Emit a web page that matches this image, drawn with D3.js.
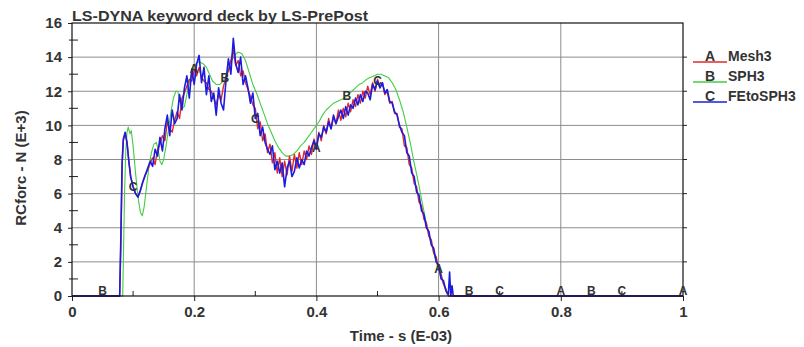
<!DOCTYPE html>
<html>
<head>
<meta charset="utf-8">
<script src="https://cdn.jsdelivr.net/npm/d3@7"></script>
<style>
  body { margin: 0; background: #fff; }
  text { font-family: Arial, "Liberation Sans", sans-serif; font-weight: bold; }
</style>
</head>
<body>
<div id="chart"></div>
<script>
// time grid (s E-03) shared by the two noisy curves
const timeFine = [
  0, 0.078, 0.080, 0.082, 0.084, 0.087, 0.090, 0.093, 0.096,
  0.100, 0.104, 0.108, 0.112, 0.116, 0.120, 0.124, 0.128, 0.132, 0.136,
  0.140, 0.144, 0.148, 0.152, 0.156, 0.160, 0.164, 0.168, 0.172, 0.176,
  0.180, 0.184, 0.188, 0.192, 0.196, 0.200, 0.204, 0.208, 0.212, 0.216,
  0.220, 0.224, 0.228, 0.232, 0.236, 0.240, 0.244, 0.248, 0.252, 0.256,
  0.260, 0.264, 0.268, 0.272, 0.276, 0.280, 0.284, 0.288, 0.292, 0.296,
  0.300, 0.304, 0.308, 0.312, 0.316, 0.320, 0.324, 0.328, 0.332, 0.336,
  0.340, 0.344, 0.348, 0.352, 0.356, 0.360, 0.364, 0.368, 0.372, 0.376,
  0.380, 0.384, 0.388, 0.392, 0.396, 0.400, 0.404, 0.408, 0.412, 0.416,
  0.420, 0.424, 0.428, 0.432, 0.436, 0.440, 0.444, 0.448, 0.452, 0.456,
  0.460, 0.464, 0.468, 0.472, 0.476, 0.480, 0.484, 0.488, 0.492, 0.496,
  0.500, 0.504, 0.508, 0.512, 0.516, 0.520, 0.524, 0.528, 0.532, 0.536,
  0.540, 0.544, 0.548, 0.552, 0.556, 0.560, 0.564, 0.568, 0.572, 0.576,
  0.580, 0.584, 0.588, 0.592, 0.596, 0.600, 0.604, 0.608, 0.612, 0.616,
  0.618, 0.620, 0.622, 0.624, 1.0
];

// A  Mesh3 (kN)
const mesh3 = [
  0, 0, 3.2, 7.6, 9.1, 9.5, 9.0, 7.9, 7.0,
  6.4, 6.0, 5.8, 6.2, 6.7, 7.1, 7.4, 7.8, 8.1, 7.7,
  8.6, 8.9, 9.4, 9.1, 10.2, 9.8, 9.6, 10.3, 10.8, 10.4,
  11.6, 11.9, 12.3, 12.7, 12.6, 13.3, 12.9, 13.4, 12.8, 12.6,
  12.5, 12.1, 12.0, 11.6, 11.2, 11.8, 11.5, 12.3, 12.8, 13.2,
  13.8, 14.4, 13.5, 13.8, 12.9, 13.2, 12.5, 12.1, 11.7, 11.2,
  11.0, 9.8, 10.2, 9.1, 9.5, 8.4, 8.9, 7.8, 8.4, 7.2,
  8.1, 7.0, 7.9, 7.1, 8.2, 7.3, 8.3, 7.5, 8.4, 7.7,
  8.5, 8.0, 8.8, 8.3, 9.2, 8.7, 9.6, 9.1, 10.0, 9.5,
  10.4, 9.8, 10.5, 10.1, 10.9, 10.3, 11.0, 10.5, 11.3, 10.8,
  11.5, 11.1, 11.8, 11.3, 12.0, 11.6, 12.3, 11.8, 12.5, 12.0,
  12.7, 12.2, 12.5, 11.8, 12.0, 11.3, 11.4, 10.7, 10.7, 9.9,
  9.8, 8.8, 8.7, 7.7, 7.5, 6.6, 6.4, 5.5, 5.3, 4.5,
  4.3, 3.5, 3.3, 2.5, 2.3, 1.6, 1.3, 0.7, 0.4, 0,
  0, 0, 0, 0, 0
];

// C  FEtoSPH3 (kN)
const feToSph3 = [
  0, 0, 3.5, 7.8, 9.2, 9.6, 9.0, 7.9, 7.0,
  6.4, 6.0, 5.8, 6.2, 6.7, 7.1, 7.5, 7.9, 7.6, 8.6,
  8.2, 9.3, 8.5, 9.8, 10.6, 9.4, 10.9, 10.1, 10.4, 11.8,
  10.9, 12.2, 12.9, 11.6, 13.3, 12.4, 13.6, 14.1, 12.5, 13.4,
  11.8, 12.9, 11.4, 11.9, 10.6, 12.2, 11.3, 10.9, 12.6, 13.9,
  13.0, 15.1, 13.6, 13.1, 14.0, 12.4, 12.9, 12.2, 11.3, 11.9,
  10.4, 10.7, 9.4, 9.9, 9.0, 8.6, 8.3, 8.8, 7.4, 7.9,
  7.2, 7.8, 6.4, 7.5, 7.9, 7.0, 7.3, 8.1, 7.5, 8.0,
  7.7, 8.5, 8.2, 8.7, 9.1, 8.6, 9.5, 9.3, 9.9, 9.6,
  10.2, 9.8, 10.6, 10.1, 10.5, 10.9, 10.4, 11.1, 10.6, 11.2,
  11.0, 11.6, 11.2, 11.8, 11.4, 12.0, 11.9, 11.5, 12.4, 12.1,
  12.6, 12.2, 12.5, 11.9, 12.1, 11.4, 11.3, 10.8, 10.6, 10.0,
  9.6, 9.4, 8.4, 8.2, 7.2, 7.0, 6.1, 5.9, 5.0, 4.8,
  4.0, 3.8, 3.0, 2.8, 2.0, 1.8, 1.0, 0.9, 0.3, 0.1,
  1.4, 0, 0.6, 0, 0
];

// B  SPH3 (smooth curve, own time grid)
const timeSph = [
  0, 0.083, 0.084, 0.086, 0.088, 0.090, 0.092, 0.095, 0.097, 0.100,
  0.104, 0.108, 0.112, 0.115, 0.118, 0.122, 0.126, 0.130, 0.134, 0.138,
  0.141, 0.144, 0.147, 0.150, 0.154, 0.158, 0.162, 0.166, 0.170, 0.173,
  0.176, 0.180, 0.184, 0.188, 0.192, 0.196, 0.200, 0.205, 0.210, 0.215,
  0.220, 0.225, 0.230, 0.236, 0.242, 0.248, 0.254, 0.260, 0.266, 0.272,
  0.278, 0.284, 0.290, 0.296, 0.302, 0.308, 0.314, 0.320, 0.326, 0.332,
  0.338, 0.344, 0.350, 0.356, 0.362, 0.368, 0.374, 0.380, 0.386, 0.392,
  0.398, 0.404, 0.410, 0.416, 0.422, 0.428, 0.434, 0.440, 0.446, 0.452,
  0.458, 0.464, 0.470, 0.476, 0.482, 0.488, 0.494, 0.500, 0.506, 0.512,
  0.518, 0.524, 0.530, 0.536, 0.542, 0.548, 0.554, 0.560, 0.566, 0.572,
  0.578, 0.584, 0.590, 0.596, 0.602, 0.608, 0.614, 0.618, 1.0
];
const sph3 = [
  0, 0, 2.0, 6.0, 8.5, 9.6, 9.9, 9.5, 9.7, 8.8,
  7.2, 5.8, 4.9, 4.7, 5.2, 6.4, 7.6, 8.4, 8.9, 9.0,
  8.6, 7.9, 7.7, 8.0, 8.8, 9.8, 10.8, 11.6, 12.0, 12.0,
  11.5, 11.0, 11.1, 11.8, 12.5, 13.1, 13.5, 13.7, 13.7, 13.6,
  13.4, 13.0, 12.6, 12.4, 12.4, 12.6, 13.1, 13.7, 14.1, 14.3,
  14.2, 13.8, 13.1, 12.4, 11.9, 11.3, 10.7, 10.1, 9.6, 9.1,
  8.7, 8.4, 8.2, 8.2, 8.3, 8.5, 8.8, 9.0, 9.3, 9.6,
  9.9, 10.2, 10.6, 10.9, 11.1, 11.3, 11.4, 11.5, 11.6, 11.8,
  12.0, 12.2, 12.4, 12.5, 12.7, 12.8, 12.9, 13.0, 13.0, 12.9,
  12.8, 12.5, 12.1, 11.5, 10.8, 9.9, 8.9, 7.8, 6.8, 5.7,
  4.6, 3.6, 2.8, 2.0, 1.3, 0.7, 0.1, 0, 0
];

const xTicks = [0, 0.2, 0.4, 0.6, 0.8, 1];
const yTicks = [0, 2, 4, 6, 8, 10, 12, 14, 16];
const seriesNames = ["Mesh3", "SPH3", "FEtoSPH3"];
const seriesLetters = ["A", "B", "C"];
const seriesColors = ["#e02828", "#44cc44", "#1c1ce0"];
const seriesWidths = [1.4, 1.1, 1.6];
const labelTimes = [
  [0.2, 0.4, 0.6, 0.8, 1.0],
  [0.05, 0.25, 0.45, 0.65, 0.85],
  [0.1, 0.3, 0.5, 0.7, 0.9]
];

const W = 804, H = 347;
const plotL = 72, plotR = 683, plotT = 23, plotB = 296;

const svg = d3.select("#chart").append("svg")
  .attr("width", W).attr("height", H)
  .style("background", "#fff");

const x = d3.scaleLinear().domain([0, 1]).range([plotL, plotR]);
const y = d3.scaleLinear().domain([0, 16]).range([plotB, plotT]);

// grid
svg.append("g").selectAll("line")
  .data(xTicks.slice(1, -1)).enter().append("line")
  .attr("x1", d => x(d)).attr("x2", d => x(d))
  .attr("y1", plotT).attr("y2", plotB)
  .attr("stroke", "#8c8c8c");
svg.append("g").selectAll("line")
  .data(yTicks.slice(1, -1)).enter().append("line")
  .attr("x1", plotL).attr("x2", plotR)
  .attr("y1", d => y(d)).attr("y2", d => y(d))
  .attr("stroke", "#8c8c8c");

// curves
const line = d3.line().x(d => x(d[0])).y(d => y(d[1]));
const seriesData = [
  d3.zip(timeFine, mesh3),
  d3.zip(timeSph, sph3),
  d3.zip(timeFine, feToSph3)
];
[1, 0, 2].forEach(i => {
  svg.append("path")
    .datum(seriesData[i])
    .attr("d", line)
    .attr("fill", "none")
    .attr("stroke", seriesColors[i])
    .attr("stroke-width", seriesWidths[i])
    .attr("stroke-linejoin", "round");
});

// axes
const xAxis = svg.append("g")
  .attr("transform", `translate(0,${plotB})`)
  .call(d3.axisBottom(x).tickValues(xTicks).tickFormat(d3.format("")).tickSize(5).tickPadding(5));
const yAxis = svg.append("g")
  .attr("transform", `translate(${plotL},0)`)
  .call(d3.axisLeft(y).tickValues(yTicks).tickSize(4).tickPadding(6));
[xAxis, yAxis].forEach(g => {
  g.select(".domain").remove();
  g.selectAll("line").attr("stroke", "#222");
  g.selectAll("text").attr("fill", "#333").style("font-size", "15px").style("font-weight", "bold");
});

// minor ticks
svg.append("g").selectAll("line")
  .data([1, 3, 5, 7, 9, 11, 13, 15]).enter().append("line")
  .attr("x1", plotL - 3).attr("x2", plotL + 6)
  .attr("y1", d => y(d)).attr("y2", d => y(d))
  .attr("stroke", "#222");
svg.append("g").selectAll("line")
  .data([0.1, 0.3, 0.5, 0.7, 0.9]).enter().append("line")
  .attr("x1", d => x(d)).attr("x2", d => x(d))
  .attr("y1", plotB).attr("y2", plotB - 5)
  .attr("stroke", "#222");
svg.append("g").selectAll("line")
  .data(yTicks.slice(1, -1)).enter().append("line")
  .attr("x1", plotR).attr("x2", plotR + 4)
  .attr("y1", d => y(d)).attr("y2", d => y(d))
  .attr("stroke", "#222");

// frame
svg.append("rect")
  .attr("x", plotL).attr("y", plotT)
  .attr("width", plotR - plotL).attr("height", plotB - plotT)
  .attr("fill", "none").attr("stroke", "#111").attr("stroke-width", 1.2);

// curve letters
function valueAt(ts, vs, t) {
  const i = d3.bisectLeft(ts, t);
  if (i <= 0) return vs[0];
  if (i >= ts.length) return vs[vs.length - 1];
  const f = (t - ts[i - 1]) / (ts[i] - ts[i - 1]);
  return vs[i - 1] + f * (vs[i] - vs[i - 1]);
}
const seriesTimes = [timeFine, timeSph, timeFine];
const seriesVals = [mesh3, sph3, feToSph3];
labelTimes.forEach((ts, i) => {
  svg.append("g").selectAll("text")
    .data(ts).enter().append("text")
    .attr("x", d => x(d))
    .attr("y", d => Math.min(y(valueAt(seriesTimes[i], seriesVals[i], d)) + 4, plotB - 1))
    .attr("text-anchor", "middle")
    .attr("fill", "#333")
    .style("font-size", "12px")
    .text(seriesLetters[i]);
});

// title and axis titles
svg.append("text")
  .attr("x", plotL).attr("y", 21)
  .attr("fill", "#333").style("font-size", "15px")
  .attr("textLength", 296).attr("lengthAdjust", "spacingAndGlyphs")
  .text("LS-DYNA keyword deck by LS-PrePost");
svg.append("text")
  .attr("x", 401).attr("y", 341)
  .attr("text-anchor", "middle")
  .attr("fill", "#333").style("font-size", "15px")
  .text("Time - s (E-03)");
svg.append("text")
  .attr("transform", "translate(26,168) rotate(-90)")
  .attr("text-anchor", "middle")
  .attr("fill", "#333").style("font-size", "15px")
  .text("RCforc - N (E+3)");

// legend
const legend = svg.append("g").selectAll("g")
  .data(seriesNames).enter().append("g")
  .attr("transform", (d, i) => `translate(693,${62 + i * 20})`);
legend.append("line")
  .attr("x1", 0).attr("x2", 34).attr("y1", 0).attr("y2", 0)
  .attr("stroke", (d, i) => seriesColors[i]).attr("stroke-width", 1.5);
legend.append("text")
  .attr("x", 17).attr("y", -1).attr("text-anchor", "middle")
  .attr("fill", "#333").style("font-size", "14px")
  .text((d, i) => seriesLetters[i]);
legend.append("text")
  .attr("x", 35).attr("y", -1)
  .attr("fill", "#333").style("font-size", "14px")
  .text(d => d);
</script>
</body>
</html>
